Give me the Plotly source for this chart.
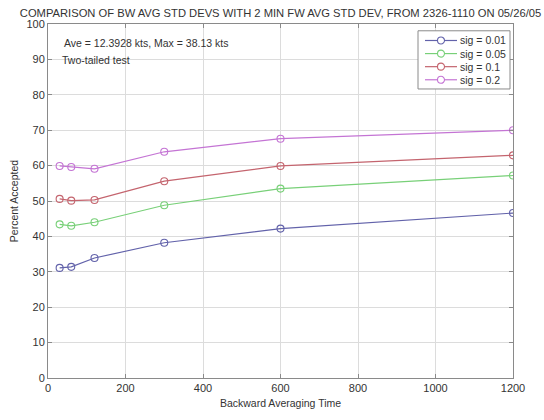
import plotly.graph_objects as go

times = [30, 60, 120, 300, 600, 1200]
sig_labels = ["sig = 0.01", "sig = 0.05", "sig = 0.1", "sig = 0.2"]
sig001 = [31.1, 31.4, 33.9, 38.2, 42.2, 46.6]
sig005 = [43.4, 43.0, 44.0, 48.8, 53.5, 57.2]
sig01 = [50.6, 50.1, 50.3, 55.6, 59.9, 62.9]
sig02 = [59.9, 59.6, 59.1, 63.9, 67.6, 70.0]
series = [sig001, sig005, sig01, sig02]
colors = ["#6262aa", "#78d078", "#c4646e", "#c474d4"]

x_ticks = [0, 200, 400, 600, 800, 1000, 1200]
y_ticks = [0, 10, 20, 30, 40, 50, 60, 70, 80, 90, 100]

W, H = 544, 420
ML, MR, MT, MB = 48, 31, 24, 31
PW, PH = W - ML - MR, H - MT - MB

def px(xp):
    return (xp - ML) / PW

def py(yp):
    return 1 - (yp - MT) / PH

font_family = "Liberation Sans, Arial, sans-serif"
txt_col = "#333333"
line_col = "#8a8a8a"

fig = go.Figure()
for name, vals, col in zip(sig_labels, series, colors):
    fig.add_trace(go.Scatter(
        x=times, y=vals, name=name, mode="lines+markers", showlegend=False,
        line=dict(color=col, width=1.2),
        marker=dict(symbol="circle-open", size=7, color=col, line=dict(width=1.1, color=col)),
    ))

axis_common = dict(
    showgrid=True, gridcolor="#dcdcdc", gridwidth=1,
    showline=True, linecolor=line_col, linewidth=1, mirror="ticks",
    ticks="inside", ticklen=4, tickcolor=line_col,
    zeroline=False,
    tickfont=dict(family=font_family, size=11, color=txt_col),
)

fig.update_layout(
    width=W, height=H,
    margin=dict(l=ML, r=MR, t=MT, b=MB),
    paper_bgcolor="white", plot_bgcolor="white",
    font=dict(family=font_family, size=11, color=txt_col),
    title=dict(
        text="COMPARISON OF BW AVG STD DEVS WITH 2 MIN FW AVG STD DEV, FROM 2326-1110 ON 05/26/05",
        x=(21 + 540) / 2 / W, xanchor="center", y=1 - 13 / H, yanchor="middle",
        font=dict(family=font_family, size=11.2, color=txt_col),
    ),
    xaxis=dict(range=[0, 1200], tickvals=x_ticks,
               title=dict(text="Backward Averaging Time", standoff=6,
                          font=dict(family=font_family, size=10.5, color=txt_col)),
               **axis_common),
    yaxis=dict(range=[0, 100], tickvals=y_ticks,
               title=dict(text="Percent Accepted", standoff=5,
                          font=dict(family=font_family, size=10.5, color=txt_col)),
               **axis_common),
    showlegend=False,
)

# annotations inside plot
fig.add_annotation(text="Ave = 12.3928 kts, Max = 38.13 kts", xref="paper", yref="paper",
                   x=px(62), y=py(44), xanchor="left", yanchor="middle",
                   showarrow=False, font=dict(family=font_family, size=10.5, color=txt_col))
fig.add_annotation(text="Two-tailed test", xref="paper", yref="paper",
                   x=px(60), y=py(61), xanchor="left", yanchor="middle",
                   showarrow=False, font=dict(family=font_family, size=10.5, color=txt_col))

# compact MATLAB-style legend box
fig.add_shape(type="rect", xref="paper", yref="paper",
              x0=px(418), x1=px(510), y0=py(91), y1=py(31),
              line=dict(color=line_col, width=1), fillcolor="white", layer="above")
row_y = [41, 54.5, 68, 81.5]
for name, col, ry in zip(sig_labels, colors, row_y):
    fig.add_shape(type="line", xref="paper", yref="paper",
                  x0=px(425), x1=px(457), y0=py(ry), y1=py(ry),
                  line=dict(color=col, width=1.2), layer="above")
    fig.add_shape(type="circle", xref="paper", yref="paper",
                  xsizemode="pixel", ysizemode="pixel",
                  xanchor=px(441), yanchor=py(ry),
                  x0=-3.5, x1=3.5, y0=-3.5, y1=3.5,
                  line=dict(color=col, width=1.1), fillcolor="white", layer="above")
    fig.add_annotation(text=name, xref="paper", yref="paper",
                       x=px(458), y=py(ry), xanchor="left", yanchor="middle",
                       showarrow=False, font=dict(family=font_family, size=10.5, color=txt_col))

fig.write_html("out.html")
